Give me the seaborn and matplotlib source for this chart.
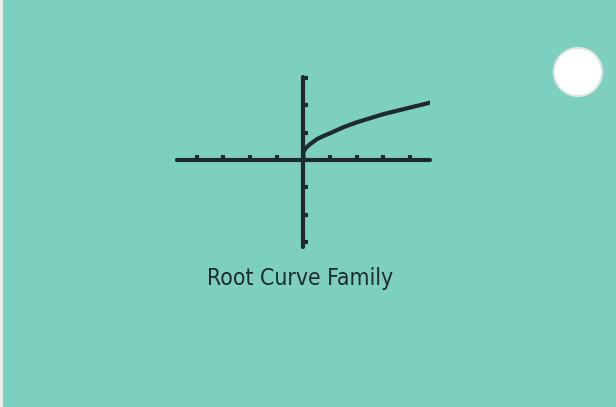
import seaborn as sns
import matplotlib.pyplot as plt
import pandas as pd
from matplotlib.patches import Ellipse, Rectangle

# values (calculator screen of y = root x)
curve_x = [0.0, 0.0, 0.1, 0.25, 0.5, 0.75, 1.0, 1.5, 2.0, 2.5, 3.0, 3.5, 4.0, 4.5, 4.75]
curve_y = [0.0, 0.3, 0.45, 0.58, 0.76, 0.88, 0.98, 1.2, 1.38, 1.53, 1.68, 1.8, 1.92, 2.04, 2.1]
x_ticks = [-4, -3, -2, -1, 1, 2, 3, 4]
y_ticks = [-3, -2, -1, 1, 2, 3]
title = 'Root Curve Family'

card = '#7dd0bf'
ink = '#1f2a30'

sns.set_style('white')
plt.rcParams['font.family'] = ['DejaVu Sans']

fig = plt.figure(figsize=(6.16, 4.07), dpi=100)
fig.patch.set_facecolor(card)
ax = fig.add_axes([0.2869, 0.3939, 0.4112, 0.4177])
ax.set_facecolor('none')

df = pd.DataFrame({'x': curve_x, 'y': curve_y})
sns.lineplot(data=df, x='x', y='y', ax=ax, color=ink, linewidth=3.0,
             sort=False, estimator=None)

ax.set_xlim(-4.75, 4.75)
ax.set_ylim(-3.17, 3.05)
for s in ['top', 'right']:
    ax.spines[s].set_visible(False)
for s in ['left', 'bottom']:
    ax.spines[s].set_position('zero')
    ax.spines[s].set_color(ink)
    ax.spines[s].set_linewidth(3.0)
    ax.spines[s].set_capstyle('round')
ax.set_xticks(x_ticks)
ax.set_yticks(y_ticks)
ax.tick_params(direction='in', length=3.5, width=3, color=ink,
               labelbottom=False, labelleft=False, bottom=True, left=True)
ax.set_xlabel('')
ax.set_ylabel('')

fig.text(0.4875, 0.315, title, ha='center', va='center', fontsize=16.5,
         fontstretch='condensed', color=ink)

# punched hole and left edge of card
fig.patches.append(Ellipse((578 / 616, 1 - 72 / 407), 48 / 616, 48 / 407,
                           transform=fig.transFigure, facecolor='white',
                           edgecolor='#e2e6e4', linewidth=1.5))
fig.patches.append(Rectangle((0, 0), 3 / 616, 1, transform=fig.transFigure,
                             facecolor='#e8eeec', edgecolor='none'))

fig.savefig('out.png', dpi=100, facecolor=card)
